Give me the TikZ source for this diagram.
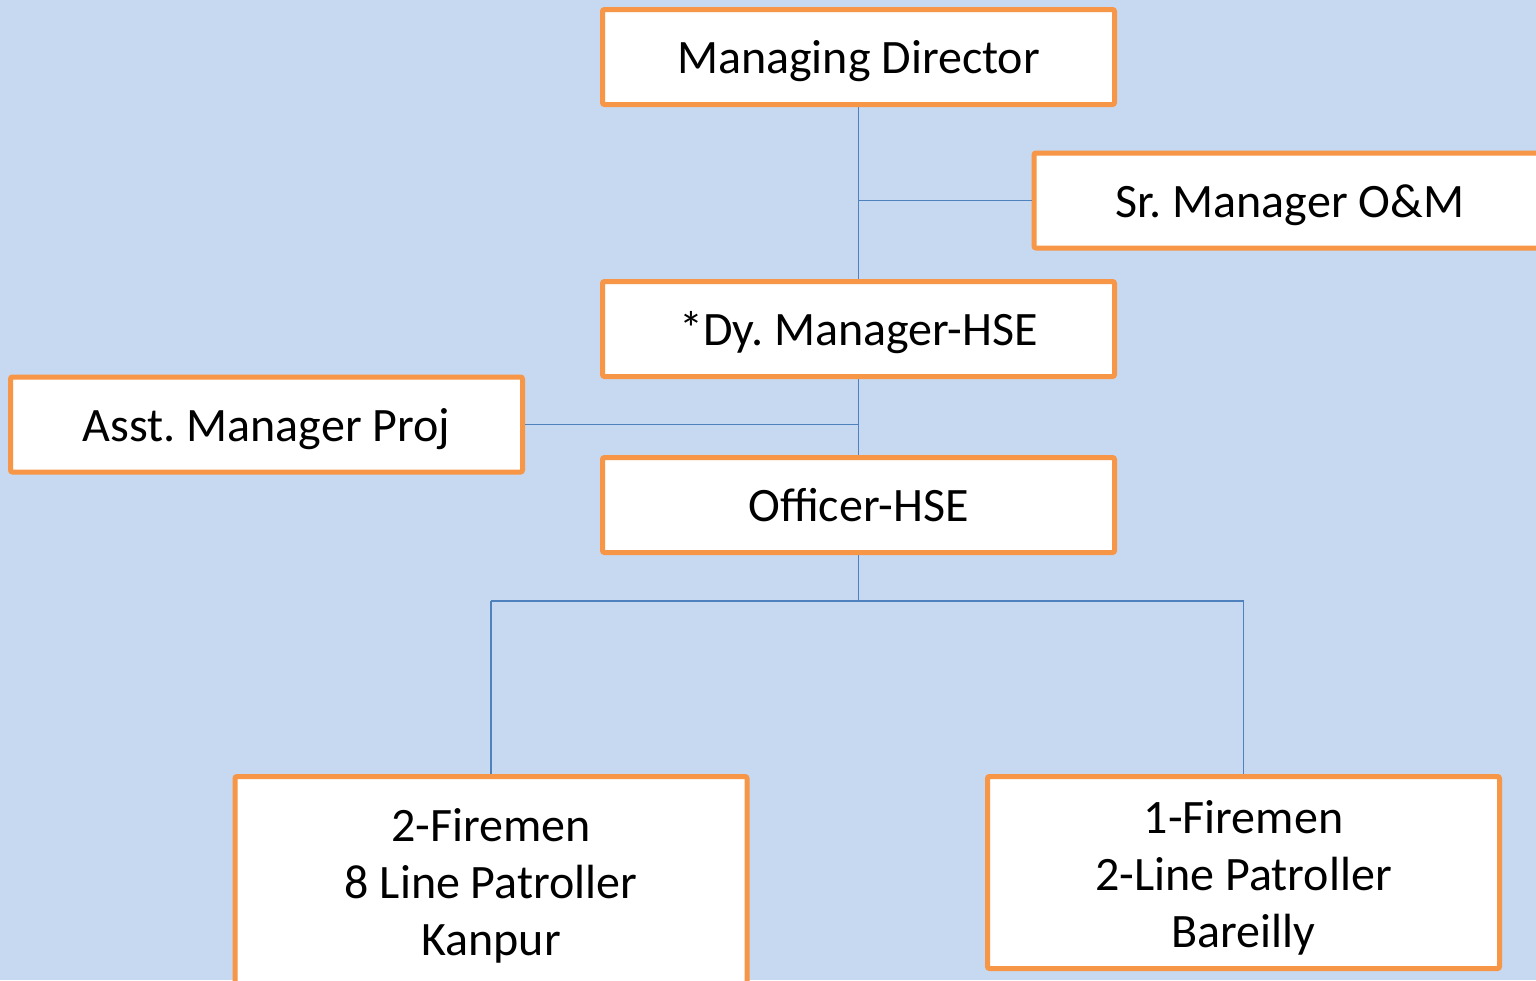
\documentclass[tikz,border=0pt]{standalone}
\usepackage{fontspec}
\setmainfont{Carlito}
\definecolor{bgblue}{HTML}{C6D9F0}
\definecolor{boxorange}{HTML}{F79646}
\definecolor{linkblue}{HTML}{4F81BD}
\begin{document}
\frenchspacing
\begin{tikzpicture}[x=0.5pt,y=-0.5pt,
  orgbox/.style={draw=boxorange,line width=2.5pt,fill=white,rounded corners=1pt,
    minimum width=256pt,minimum height=47.5pt,inner sep=0pt,align=center,
    font=\fontsize{24}{28.5}\selectfont},
  oneline/.style={orgbox,text height=20pt,text depth=3.5pt},
  boxtext/.style={align=center,inner sep=0pt,font=\fontsize{24}{28.5}\selectfont},
  link/.style={draw=linkblue,line width=0.9pt}]
\useasboundingbox (0,0) rectangle (1536,980);
\fill[bgblue] (0,0) rectangle (1536,980);
\begin{scope}
\clip (0,0) rectangle (1536,980);
\node[oneline] (md) at (858.5,57) {Managing Director};
\node[oneline] (sr) at (1290,200.5) {Sr. Manager O\&M};
\node[oneline] (dy) at (858.5,329) {*Dy. Manager-HSE};
\node[oneline] (asst) at (266.5,424.5) {Asst. Manager Proj};
\node[oneline] (off) at (858.5,505) {Officer-HSE};
\node[orgbox,minimum height=110pt] (kan) at (491,886.5) {};
\node[orgbox,minimum height=96pt] (bar) at (1243.5,872.5) {};
\node[boxtext] (kantext) at (491,886) {2-Firemen\\8 Line Patroller\\Kanpur};
\node[boxtext] (bartext) at (1243.5,877.5) {1-Firemen\\2-Line Patroller\\Bareilly};
\coordinate (j1) at (858.5,200.5);
\coordinate (j2) at (858.5,424.5);
\coordinate (j3) at (858.5,601);
\coordinate (jl) at (491,601);
\coordinate (jr) at (1243.5,601);
\draw[link] (md.south) -- (dy.north);
\draw[link] (j1) -- (sr.west);
\draw[link] (dy.south) -- (off.north);
\draw[link] (asst.east) -- (j2);
\draw[link] (off.south) -- (j3);
\draw[link] (jl) -- (jr);
\draw[link] (jl) -- (kan.north);
\draw[link] (jr) -- (bar.north);
\end{scope}
\end{tikzpicture}
\end{document}
